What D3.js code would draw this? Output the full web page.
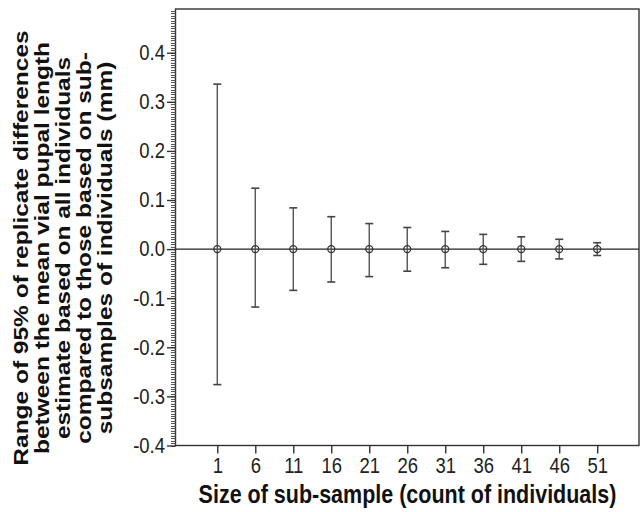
<!DOCTYPE html>
<html><head><meta charset="utf-8">
<script src="https://cdn.jsdelivr.net/npm/d3@7"></script>
<style>
html,body{margin:0;padding:0;background:#fff;}
text{font-family:"Liberation Sans",Arial,sans-serif;}
</style></head>
<body><svg id="chart" width="643" height="512"></svg>
<script>
const sizes = [1, 6, 11, 16, 21, 26, 31, 36, 41, 46, 51];
const means = [0, 0, 0, 0, 0, 0, 0, 0, 0, 0, 0];
const upper = [0.336, 0.124, 0.084, 0.066, 0.052, 0.044, 0.036, 0.030, 0.025, 0.020, 0.013];
const lower = [-0.276, -0.118, -0.084, -0.067, -0.056, -0.045, -0.038, -0.031, -0.025, -0.020, -0.013];
const yTicks = [-0.4, -0.3, -0.2, -0.1, 0.0, 0.1, 0.2, 0.3, 0.4];
const xTitle = "Size of sub-sample (count of individuals)";
const yTitleLines = [
  "Range of 95% of replicate differences",
  "between the mean vial pupal length",
  "estimate based on all individuals",
  "compared to those based on sub-",
  "subsamples of individuals (mm)"
];

const SQ = 0.86; // horizontal squeeze of the original figure's text
const svg = d3.select("#chart");
const L = 175.5, R = 639, T = 9, B = 445.5;
const x = d3.scaleLinear().domain([-4.5, 56.5]).range([L, R]);
const y = d3.scaleLinear().domain([-0.4, 0.489]).range([B, T]);

// frame
svg.append("rect").attr("x", L).attr("y", T).attr("width", R - L).attr("height", B - T)
  .attr("fill", "none").attr("stroke", "#333").attr("stroke-width", 1.4);

// minor y ticks
const minor = d3.range(-0.4, 0.4891, 0.005);
svg.append("g").selectAll("line").data(minor).join("line")
  .attr("x1", L - 4.5).attr("x2", L).attr("y1", d => Math.round(y(d)) + 0.5).attr("y2", d => Math.round(y(d)) + 0.5)
  .attr("stroke", "#555").attr("stroke-width", 1);

// y axis
const yAxis = d3.axisLeft(y).tickValues(yTicks).tickFormat(d3.format(".1f")).tickSize(8.5).tickPadding(2);
const gy = svg.append("g").attr("transform", `translate(${L},0)`).call(yAxis);
gy.select(".domain").remove();
gy.selectAll(".tick line").attr("stroke", "#333").attr("stroke-width", 1.4);
gy.selectAll(".tick text").attr("font-size", 21.5).attr("fill", "#222")
  .attr("x", -10.5 / SQ).attr("transform", `scale(${SQ},1)`)
  .text(d => d3.format(".1f")(d).replace("−", "-"));

// x axis
const xAxis = d3.axisBottom(x).tickValues(sizes).tickFormat(d3.format("d")).tickSize(8).tickPadding(4.5);
const gx = svg.append("g").attr("transform", `translate(0,${B})`).call(xAxis);
gx.select(".domain").remove();
gx.selectAll(".tick line").attr("stroke", "#333").attr("stroke-width", 1.4);
gx.selectAll(".tick text").attr("font-size", 21.5).attr("fill", "#222")
  .attr("transform", `scale(${SQ},1)`);

// zero line
svg.append("line").attr("x1", L).attr("x2", R).attr("y1", y(0)).attr("y2", y(0))
  .attr("stroke", "#222").attr("stroke-width", 1.4);

// error bars
const data = sizes.map((s, i) => ({s, m: means[i], u: upper[i], l: lower[i]}));
const g = svg.append("g");
g.selectAll(".v").data(data).join("line")
  .attr("x1", d => x(d.s)).attr("x2", d => x(d.s)).attr("y1", d => y(d.u)).attr("y2", d => y(d.l))
  .attr("stroke", "#555").attr("stroke-width", 1.4);
g.selectAll(".cu").data(data).join("line")
  .attr("x1", d => x(d.s) - 4).attr("x2", d => x(d.s) + 4).attr("y1", d => y(d.u)).attr("y2", d => y(d.u))
  .attr("stroke", "#444").attr("stroke-width", 1.6);
g.selectAll(".cl").data(data).join("line")
  .attr("x1", d => x(d.s) - 4).attr("x2", d => x(d.s) + 4).attr("y1", d => y(d.l)).attr("y2", d => y(d.l))
  .attr("stroke", "#444").attr("stroke-width", 1.6);
g.selectAll("circle").data(data).join("circle")
  .attr("cx", d => x(d.s)).attr("cy", d => y(d.m)).attr("r", 3.5)
  .attr("fill", "none").attr("stroke", "#333").attr("stroke-width", 1.3);

// titles
svg.append("g").attr("transform", `translate(407.5,503) scale(${SQ},1)`)
  .append("text").attr("text-anchor", "middle")
  .attr("font-size", 25).attr("font-weight", "bold").attr("fill", "#111").text(xTitle);

const yt = svg.append("g").attr("transform", `translate(0,248) scale(${SQ},1) rotate(-90)`)
  .append("text").attr("text-anchor", "middle").attr("font-size", 24.5).attr("font-weight", "bold").attr("fill", "#111");
yTitleLines.forEach((t, i) => {
  yt.append("tspan").attr("x", 0).attr("y", 33 + i * 21 / SQ).text(t);
});
</script></body></html>
